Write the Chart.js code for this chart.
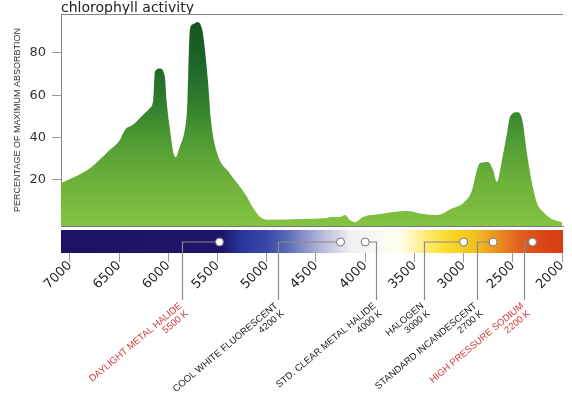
<!DOCTYPE html>
<html>
  <script src="https://cdn.jsdelivr.net/npm/chart.js@4.4.1/dist/chart.umd.min.js"></script>
  <style>
    body {
      margin: 0;
      background: #fff;
    }
  </style>
  <body>
    <canvas id="myChart" width="572" height="399"></canvas>

    <script>
      // absorption curve, colour temperature (K) vs % of max absorption
      const kelvin = [7090, 6797, 6594, 6492, 6441, 6360, 6258, 6187, 6153, 6136, 6086, 6035, 6018, 5978, 5951, 5927,
        5883, 5839, 5815, 5805, 5781, 5751, 5700, 5669, 5649, 5598, 5567, 5509, 5374, 5272, 5201, 5140, 5039, 4968,
        4663, 4388, 4358, 4256, 4205, 4155, 4104, 4022, 3850, 3575, 3413, 3270, 3108, 3006, 2915, 2864, 2833, 2752,
        2701, 2661, 2610, 2559, 2528, 2457, 2407, 2356, 2305, 2254, 2193, 2122, 2000];
      const absorption = [18.4, 25.5, 34.2, 38.9, 43.6, 46, 50.7, 54, 57.7, 71.1, 72.7, 68.8, 57.7, 42, 33.4, 30.7,
        35.7, 42, 49.9, 57.7, 90.8, 93.5, 94.6, 93, 89.4, 67.2, 48.3, 33.4, 23, 16.7, 12, 6.8, 1.6, 1.1,
        1.5, 2, 2.5, 2.5, 3.4, 1, 0, 2.5, 3.9, 5.3, 3.9, 3.4, 6.7, 9, 15, 24.7, 28, 28.5,
        24.7, 19, 29.4, 42, 49.8, 52, 49, 32.5, 18.4, 9, 5, 2, 0];

      const xTicks = [7000, 6500, 6000, 5500, 5000, 4500, 4000, 3500, 3000, 2500, 2000];
      const yTicks = [20, 40, 60, 80];

      // colour bar under the chart
      const barK = [7090, 5450, 5240, 5000, 4760, 4660, 4460, 4250, 4150, 3650, 3550, 3440, 3240, 3040, 2880, 2730,
        2580, 2430, 2220, 1990];
      const barColors = ["#1b1264", "#1d166a", "#2b38a0", "#3848a8", "#6070b8", "#8088c4", "#b0b4d8", "#dcdcec",
        "#f0f0f4", "#fffff0", "#fff8c8", "#fff090", "#fae040", "#f6d020", "#f2c020", "#eea020", "#e88020",
        "#e26020", "#dc4818", "#d83c14"];

      // lamps
      const lampNames = ["DAYLIGHT METAL HALIDE", "COOL WHITE FLUORESCENT", "STD. CLEAR METAL HALIDE", "HALOGEN",
        "STANDARD INCANDESCENT", "HIGH PRESSURE SODIUM"];
      const lampTemps = ["5500 K", "4200 K", "4000 K", "3000 K", "2700 K", "2200 K"];
      const lampMarkK = [5480, 4250, 4000, 3000, 2700, 2300];

      const leaderDx = [-37, -63, 11, -40, -16, -8];
      const lampRed = [true, false, false, false, false, true];

      const spectrum = {
        id: "spectrum",
        afterDraw(chart) {
          const c = chart.ctx;
          const a = chart.chartArea;
          const xs = chart.scales.x;
          c.save();

          c.fillStyle = "#222";
          c.font = '14px "DejaVu Sans"';
          c.textAlign = "left";
          c.textBaseline = "alphabetic";
          c.fillText("chlorophyll activity", a.left, 12);

          c.strokeStyle = "#888";
          c.lineWidth = 1;
          c.beginPath();
          c.moveTo(a.left, a.top + 0.5);
          c.lineTo(a.right, a.top + 0.5);
          c.stroke();

          // bar
          c.fillStyle = "#fff";
          c.fillRect(a.left, a.bottom + 1, a.right - a.left, 3);
          const g = c.createLinearGradient(a.left, 0, a.right, 0);
          for (let i = 0; i < barK.length; i++) {
            let p = (xs.getPixelForValue(barK[i]) - a.left) / (a.right - a.left);
            g.addColorStop(Math.min(1, Math.max(0, p)), barColors[i]);
          }
          c.fillStyle = g;
          c.fillRect(a.left, a.bottom + 4, a.right - a.left, 23);

          const my = a.bottom + 16;
          for (let i = 0; i < lampMarkK.length; i++) {
            const mx = xs.getPixelForValue(lampMarkK[i]);
            const cx = Math.round(mx + leaderDx[i]) + 0.5;
            c.strokeStyle = "#8a8a8a";
            c.lineWidth = 1.2;
            c.beginPath();
            c.moveTo(mx, my);
            c.lineTo(cx, my);
            c.lineTo(cx, 300);
            c.stroke();

            c.fillStyle = "#fff";
            c.strokeStyle = "#777";
            c.lineWidth = 1;
            c.beginPath();
            c.arc(mx, my, 4, 0, Math.PI * 2);
            c.fill();
            c.stroke();

            c.save();
            c.translate(cx - 5, 301);
            c.rotate((-40 * Math.PI) / 180);
            c.fillStyle = lampRed[i] ? "#d2393c" : "#222";
            c.font = '9.5px "Liberation Sans"';
            c.textAlign = "right";
            c.textBaseline = "top";
            c.fillText(lampNames[i], 0, 0);
            c.fillText(lampTemps[i], 0, 10);
            c.restore();
          }
          c.restore();
        },
      };

      new Chart(document.getElementById("myChart"), {
        type: "line",
        data: {
          datasets: [
            {
              data: kelvin.map((k, i) => ({ x: k, y: absorption[i] })),
              fill: "start",
              borderWidth: 0,
              pointRadius: 0,
              cubicInterpolationMode: "monotone",
              backgroundColor: function (ctx) {
                const a = ctx.chart.chartArea;
                if (!a) return "#5a9f35";
                const g = ctx.chart.ctx.createLinearGradient(0, a.top, 0, a.bottom);
                g.addColorStop(0.05, "#15561f");
                g.addColorStop(0.22, "#1d6529");
                g.addColorStop(0.41, "#2e7d2c");
                g.addColorStop(0.59, "#4e9a33");
                g.addColorStop(0.78, "#6cb03a");
                g.addColorStop(1, "#84c443");
                return g;
              },
            },
          ],
        },
        options: {
          responsive: false,
          animation: false,
          layout: { padding: { top: 14, right: 9, left: 0, bottom: 0 } },
          plugins: {
            legend: { display: false },
            tooltip: { enabled: false },
          },
          scales: {
            x: {
              type: "linear",
              reverse: true,
              min: 1990,
              max: 7090,
              afterBuildTicks: (s) => {
                s.ticks = xTicks.map((v) => ({ value: v }));
              },
              afterFit: (s) => {
                s.height = 173;
              },
              border: { color: "#777" },
              grid: { drawOnChartArea: false, tickLength: 36, color: "#999" },
              ticks: {
                autoSkip: false,
                maxRotation: 45,
                minRotation: 45,
                padding: -4,
                color: "#222",
                font: { family: "DejaVu Sans", size: 13 },
                callback: (v) => String(v),
              },
            },
            y: {
              min: -1.8,
              max: 98.4,
              afterBuildTicks: (s) => {
                s.ticks = yTicks.map((v) => ({ value: v }));
              },
              afterFit: (s) => {
                s.width = 61;
              },
              border: { color: "#888" },
              grid: { drawOnChartArea: false, tickLength: 9, color: "#999" },
              ticks: {
                padding: 6,
                color: "#333",
                font: { family: "DejaVu Sans", size: 13 },
              },
              title: {
                display: true,
                text: "PERCENTAGE OF MAXIMUM ABSORBTION",
                color: "#333",
                font: { family: "Liberation Sans", size: 9 },
                padding: { top: 12, bottom: 0 },
              },
            },
          },
        },
        plugins: [spectrum],
      });
    </script>
  </body>
</html>
